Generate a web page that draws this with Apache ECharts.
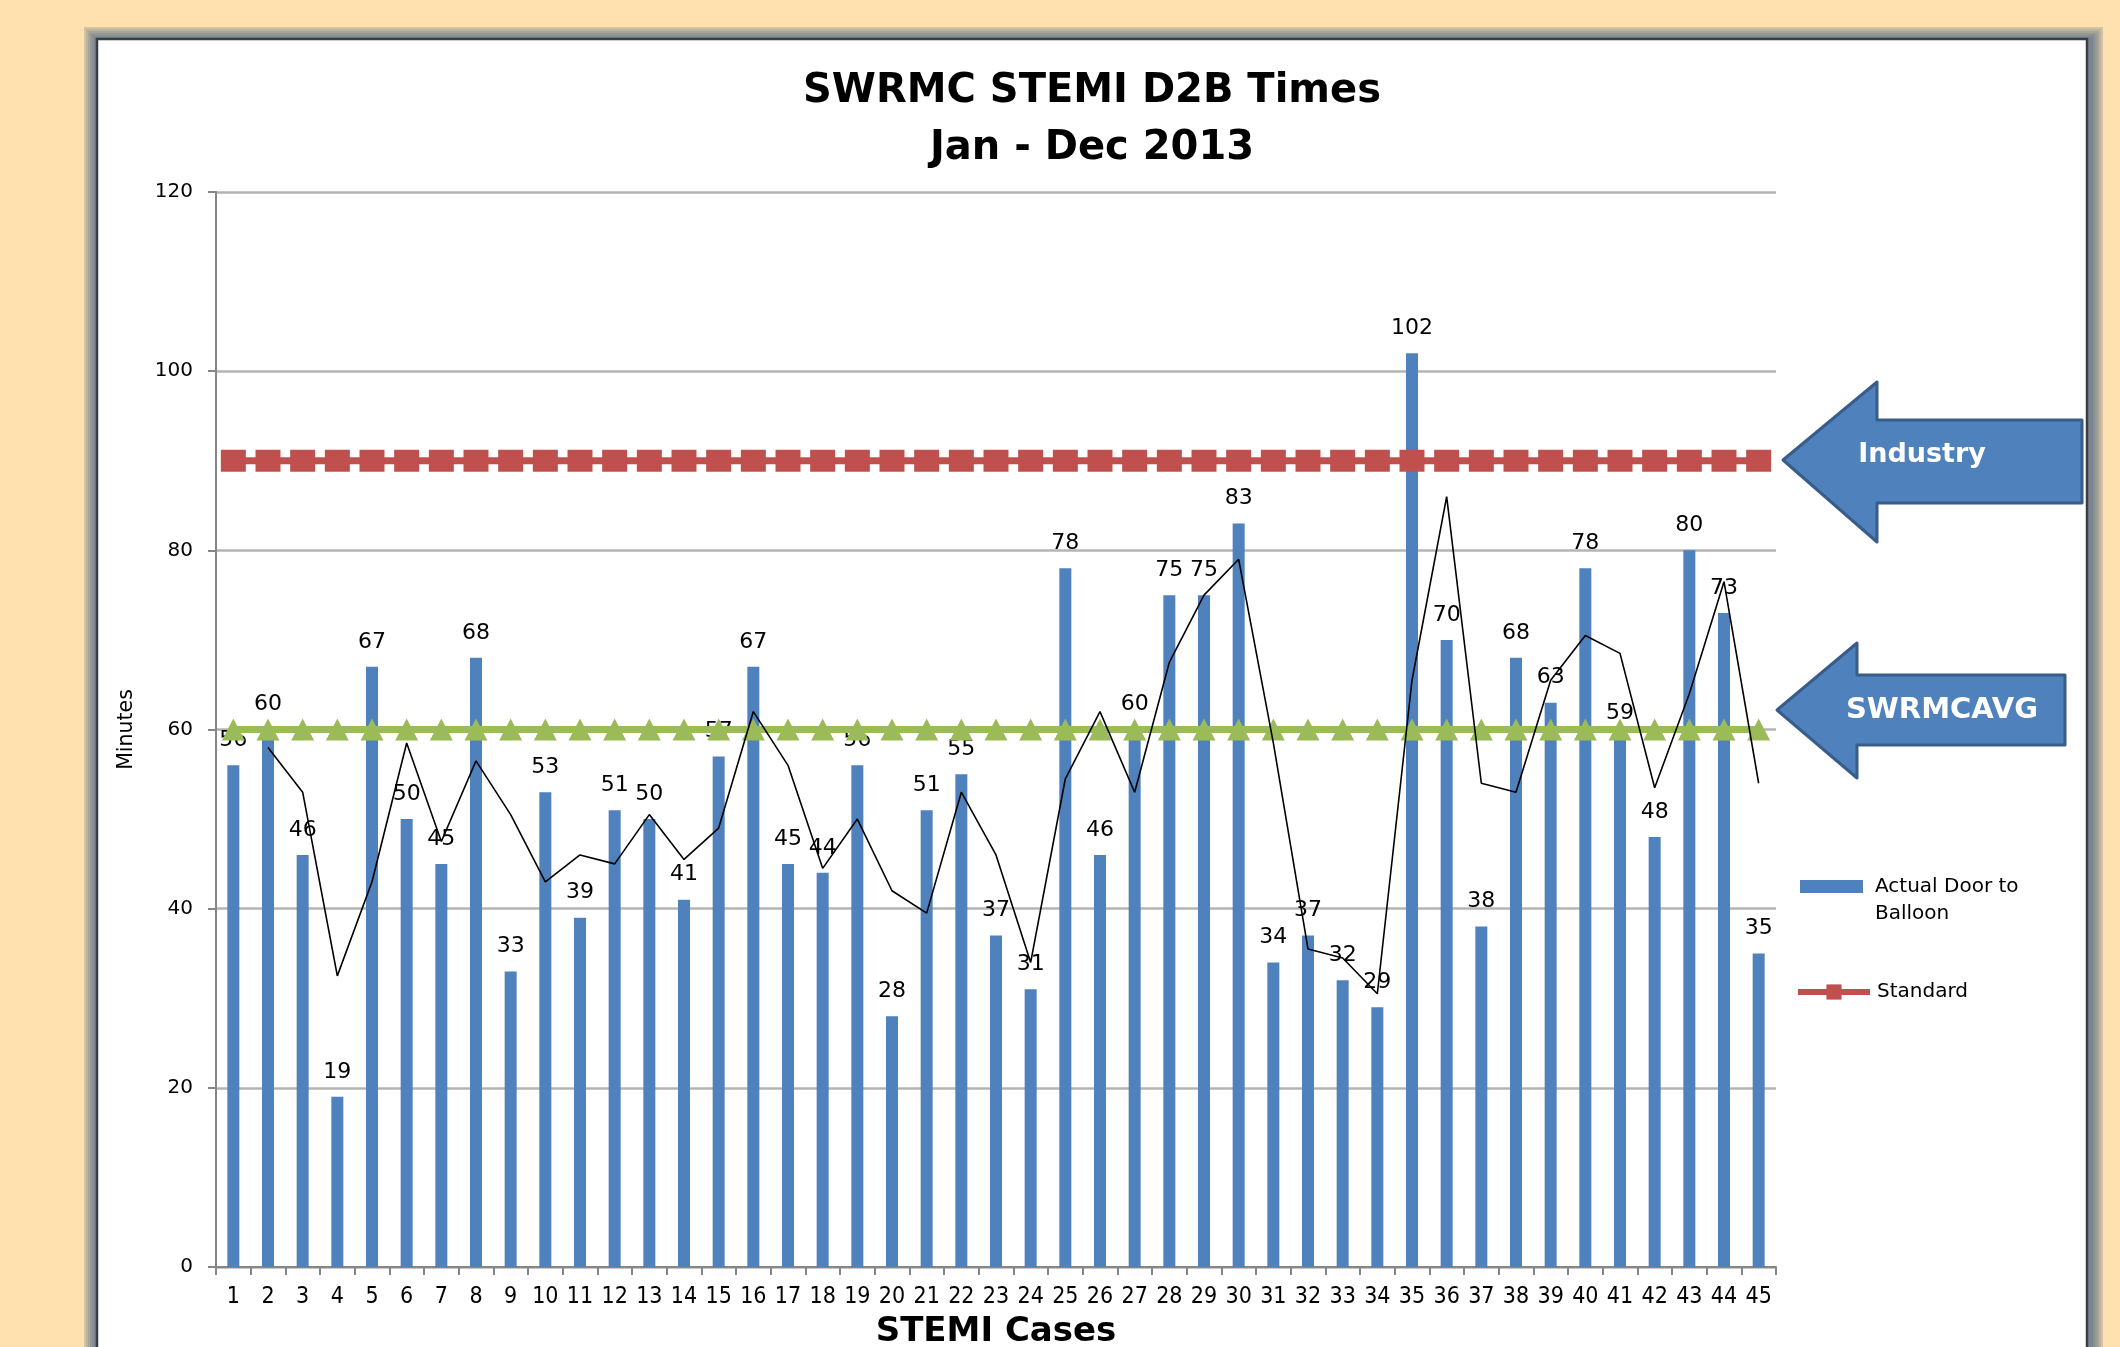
<!DOCTYPE html>
<html>
<head>
<meta charset="utf-8">
<title>SWRMC STEMI D2B Times</title>
<script src="https://cdn.jsdelivr.net/npm/echarts@6/dist/echarts.min.js"></script>
<style>
  html, body { margin: 0; padding: 0; background: #FFE1AF; overflow: hidden; }
  #chart { width: 2120px; height: 1347px; }
</style>
</head>
<body>
<div id="chart"></div>
<script>
// ---- Data ----
const categories = ['1','2','3','4','5','6','7','8','9','10','11','12','13','14','15','16','17','18','19','20','21','22','23','24','25','26','27','28','29','30','31','32','33','34','35','36','37','38','39','40','41','42','43','44','45'];
const actualDoorToBalloon = [56,60,46,19,67,50,45,68,33,53,39,51,50,41,57,67,45,44,56,28,51,55,37,31,78,46,60,75,75,83,34,37,32,29,102,70,38,68,63,78,59,48,80,73,35];
const standardValues = [90,90,90,90,90,90,90,90,90,90,90,90,90,90,90,90,90,90,90,90,90,90,90,90,90,90,90,90,90,90,90,90,90,90,90,90,90,90,90,90,90,90,90,90,90];
const swrmcAvgValues = [60,60,60,60,60,60,60,60,60,60,60,60,60,60,60,60,60,60,60,60,60,60,60,60,60,60,60,60,60,60,60,60,60,60,60,60,60,60,60,60,60,60,60,60,60];
const trendValues = [null,58,53,32.5,43,58.5,47.5,56.5,50.5,43,46,45,50.5,45.5,49,62,56,44.5,50,42,39.5,53,46,34,54.5,62,53,67.5,75,79,58.5,35.5,34.5,30.5,65.5,86,54,53,65.5,70.5,68.5,53.5,64,76.5,54];
const yTicks = { min: 0, max: 120, interval: 20 };

const FONT = 'DejaVu Sans, Verdana, sans-serif';
const FONT_COND = 'DejaVu Sans Condensed, DejaVu Sans, sans-serif';

const chart = echarts.init(document.getElementById('chart'), null, { renderer: 'canvas', width: 2120, height: 1347 });

function arrow(tipX, tipY, headX, headTop, headBottom, shaftTop, shaftBottom, endX) {
  return [[tipX, tipY], [headX, headTop], [headX, shaftTop], [endX, shaftTop],
          [endX, shaftBottom], [headX, shaftBottom], [headX, headBottom]];
}

// frame shadow bands (outer tan-grey to inner blue-grey)
const bandColors = ['#D2C3A2', '#BDB39C', '#A8A597', '#969993', '#878F92', '#7A8590'];
const frameGraphics = bandColors.map(function (c, i) {
  return {
    type: 'rect', z: -20 + i, silent: true,
    shape: { x: 84 + i * 2, y: 27 + i * 2, width: 2019 - i * 4, height: 1400 },
    style: { fill: c }
  };
});
frameGraphics.push({
  type: 'rect', z: -10, silent: true,
  shape: { x: 97, y: 39, width: 1990, height: 1400 },
  style: { fill: '#FFFFFF', stroke: '#3A3F46', lineWidth: 2.5 }
});

const option = {
  backgroundColor: '#FFE1AF',
  animation: false,
  title: {
    text: 'SWRMC STEMI D2B Times\nJan - Dec 2013',
    left: 1092,
    textAlign: 'center',
    top: 63,
    padding: 0,
    textStyle: { fontFamily: FONT, fontWeight: 'bold', fontSize: 40, lineHeight: 57, color: '#000' }
  },
  grid: { left: 216, right: 344, top: 192, bottom: 80, containLabel: false, outerBoundsMode: 'none' },
  legend: [
    {
      data: ['Actual Door to Balloon'],
      left: 1800, top: 846, padding: 0,
      orient: 'vertical', selectedMode: false,
      icon: 'rect', itemWidth: 63, itemHeight: 13,
      formatter: function () { return '\nActual Door to\nBalloon'; },
      textStyle: { fontFamily: FONT, fontSize: 20, lineHeight: 27, color: '#000', padding: [0, 0, 0, 7] }
    },
    {
      data: ['Standard'],
      left: 1795, top: 982, padding: 0,
      orient: 'vertical', selectedMode: false,
      itemWidth: 72, itemHeight: 19,
      lineStyle: { width: 6 },
      textStyle: { fontFamily: FONT, fontSize: 20, lineHeight: 19, color: '#000', padding: [0, 0, 0, 2] }
    }
  ],
  xAxis: {
    type: 'category',
    data: categories,
    boundaryGap: true,
    name: 'STEMI Cases',
    nameLocation: 'middle',
    nameGap: 48,
    nameTextStyle: { fontFamily: FONT, fontWeight: 'bold', fontSize: 34, color: '#000' },
    axisLine: { show: true, lineStyle: { color: '#868686', width: 2 } },
    axisTick: { show: true, interval: 0, length: 8, inside: false, lineStyle: { color: '#868686', width: 2 } },
    axisLabel: { interval: 0, margin: 19, fontFamily: FONT_COND, fontSize: 23, color: '#000' },
    splitLine: { show: false }
  },
  yAxis: {
    type: 'value',
    min: yTicks.min, max: yTicks.max, interval: yTicks.interval,
    name: 'Minutes',
    nameLocation: 'middle',
    nameGap: 79,
    nameTextStyle: { fontFamily: FONT, fontSize: 20.5, color: '#000' },
    axisLine: { show: true, lineStyle: { color: '#868686', width: 2 } },
    axisTick: { show: true, length: 8, inside: false, lineStyle: { color: '#868686', width: 2 } },
    axisLabel: { margin: 23, fontFamily: FONT, fontSize: 20, color: '#000' },
    splitLine: { show: true, lineStyle: { color: '#B4B4B4', width: 2.5 } }
  },
  series: [
    {
      name: 'Actual Door to Balloon',
      type: 'bar',
      data: actualDoorToBalloon,
      barWidth: 12,
      itemStyle: { color: '#4F81BD' },
      label: { show: true, position: 'top', distance: 14, fontFamily: FONT, fontSize: 22, color: '#000' },
      z: 2
    },
    {
      name: 'Standard',
      type: 'line',
      data: standardValues,
      symbol: 'rect',
      symbolSize: [25, 22],
      lineStyle: { color: '#C0504D', width: 7 },
      itemStyle: { color: '#C0504D' },
      z: 3
    },
    {
      name: 'SWRMC AVG',
      type: 'line',
      data: swrmcAvgValues,
      symbol: 'triangle',
      symbolSize: [23, 22],
      lineStyle: { color: '#9BBB59', width: 7 },
      itemStyle: { color: '#9BBB59' },
      z: 3
    },
    {
      name: 'Trend',
      type: 'line',
      data: trendValues,
      symbol: 'none',
      lineStyle: { color: '#000', width: 1.6 },
      z: 4
    }
  ],
  graphic: frameGraphics.concat([
    {
      type: 'polygon', z: 100, silent: true,
      shape: { points: arrow(1783, 460, 1877, 382, 542, 420, 503, 2082) },
      style: { fill: '#4F81BD', stroke: '#385D8A', lineWidth: 3, lineJoin: 'round' }
    },
    {
      type: 'text', z: 101, silent: true, x: 1922, y: 455,
      style: { text: 'Industry', fill: '#FFFFFF', fontFamily: FONT, fontWeight: 'bold', fontSize: 27, align: 'center', verticalAlign: 'middle' }
    },
    {
      type: 'polygon', z: 100, silent: true,
      shape: { points: arrow(1777, 710, 1857, 643, 778, 675, 745, 2065) },
      style: { fill: '#4F81BD', stroke: '#385D8A', lineWidth: 3, lineJoin: 'round' }
    },
    {
      type: 'text', z: 101, silent: true, x: 1942, y: 710,
      style: { text: 'SWRMCAVG', fill: '#FFFFFF', fontFamily: FONT, fontWeight: 'bold', fontSize: 29, align: 'center', verticalAlign: 'middle' }
    }
  ])
};

chart.setOption(option);
</script>
</body>
</html>
